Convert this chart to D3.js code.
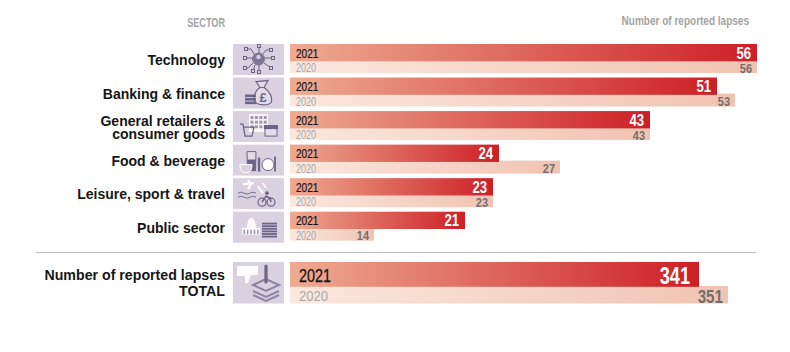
<!DOCTYPE html>
<html>
<head>
<meta charset="utf-8">
<script src="https://d3js.org/d3.v7.min.js"></script>
<style>
  html, body { margin: 0; padding: 0; background: #fff; }
  svg { display: block; }
  text { font-family: "Liberation Sans", Arimo, sans-serif; }
</style>
</head>
<body>
<div id="chart"></div>
<script>
const sectors = ['Technology', 'Banking & finance', 'General retailers &\nconsumer goods', 'Food & beverage', 'Leisure, sport & travel', 'Public sector'];
const lapses2021 = [56, 51, 43, 24, 23, 21];
const lapses2020 = [56, 53, 43, 27, 23, 14];
const totalLabel = 'Number of reported lapses\nTOTAL';
const total2021 = 341;
const total2020 = 351;

const width = 790, height = 352;
const barLeft = 290;
const tileColor = '#d9d0e0';
const iconColor = '#6a6486';

// the bars of the original are not strictly proportional, so the scales have several knots
const x = d3.scaleLinear()
    .domain([0, 14, 21, 23, 24, 27, 43, 51, 53, 56])
    .range([barLeft, 374, 465, 493, 499, 560, 650, 717, 735, 757]);
const xTotal = d3.scaleLinear()
    .domain([0, 341, 351])
    .range([barLeft, 699, 728]);
const y = d3.scaleLinear().domain([0, 5]).range([44, 211.7]);

const svg = d3.select('#chart').append('svg')
    .attr('width', width)
    .attr('height', height);

const defs = svg.append('defs');
function gradient(id, from, to) {
    const g = defs.append('linearGradient').attr('id', id);
    g.append('stop').attr('offset', '0%').attr('stop-color', from);
    g.append('stop').attr('offset', '100%').attr('stop-color', to);
}
gradient('grad2021', '#eeab92', '#cd1f26');
gradient('grad2020', '#fbe8df', '#f1c3b2');

// no condensed font is installed, so squeeze the text to the width of the original
function squeeze(selection, factor) {
    selection.each(function() {
        d3.select(this)
            .attr('textLength', this.getComputedTextLength() * factor)
            .attr('lengthAdjust', 'spacingAndGlyphs');
    });
}

// headers
svg.append('text').attr('x', 225).attr('y', 27).attr('text-anchor', 'end')
    .style('font-size', '12.5px').style('font-weight', 700).style('fill', '#a3a3a3')
    .text('SECTOR')
    .call(squeeze, 0.73);
svg.append('text').attr('x', 749).attr('y', 25).attr('text-anchor', 'end')
    .style('font-size', '13px').style('font-weight', 700).style('fill', '#a3a3a3')
    .text('Number of reported lapses')
    .call(squeeze, 0.77);

function multiline(text, xPos, yCenter, size, lineHeight) {
    const lines = text.split('\n');
    const label = svg.append('text')
        .attr('text-anchor', 'end')
        .style('font-size', size + 'px')
        .style('font-weight', 700)
        .style('fill', '#161616');
    lines.forEach((line, i) => {
        label.append('tspan')
            .attr('x', xPos)
            .attr('y', yCenter + (i - (lines.length - 1) / 2) * lineHeight + size * 0.36)
            .text(line);
    });
}

const rows = svg.selectAll('.row')
    .data(sectors.map((name, i) => ({ name, i, a: lapses2021[i], b: lapses2020[i] })))
    .enter()
    .append('g')
    .attr('class', 'row');

// 2020 goes first so the 2021 bar sits on top of it
rows.append('rect')
    .attr('x', barLeft)
    .attr('y', d => y(d.i) + 16)
    .attr('width', d => x(d.b) - barLeft)
    .attr('height', 13)
    .attr('fill', 'url(#grad2020)');
rows.append('rect')
    .attr('x', barLeft)
    .attr('y', d => y(d.i))
    .attr('width', d => x(d.a) - barLeft)
    .attr('height', 17.3)
    .attr('fill', 'url(#grad2021)');
rows.append('rect')
    .attr('x', 233)
    .attr('y', d => y(d.i))
    .attr('width', 51)
    .attr('height', 31)
    .attr('fill', tileColor);

rows.append('text')
    .attr('x', 296).attr('y', d => y(d.i) + 13.5)
    .style('font-size', '13px').style('fill', '#111').style('stroke', '#111').style('stroke-width', 0.2)
    .text('2021')
    .call(squeeze, 0.77);
rows.append('text')
    .attr('x', 296).attr('y', d => y(d.i) + 28)
    .style('font-size', '12px').style('fill', '#a8a8a8')
    .text('2020')
    .call(squeeze, 0.75);
rows.append('text')
    .attr('x', d => x(d.a) - 6).attr('y', d => y(d.i) + 14.5)
    .attr('text-anchor', 'end')
    .style('font-size', '16px').style('font-weight', 700).style('fill', '#fff')
    .text(d => d.a)
    .call(squeeze, 0.82);
rows.append('text')
    .attr('x', d => x(d.b) - 5).attr('y', d => y(d.i) + 28.5)
    .attr('text-anchor', 'end')
    .style('font-size', '13px').style('font-weight', 700).style('fill', '#6f6f6f')
    .text(d => d.b)
    .call(squeeze, 0.84);

sectors.forEach((name, i) => multiline(name, 225, y(i) + 16, 14, 13));

// separator
svg.append('line').attr('x1', 36).attr('x2', 756).attr('y1', 252.5).attr('y2', 252.5)
    .attr('stroke', '#bdbdbd').attr('stroke-width', 1);

// total row
multiline(totalLabel, 225, 283, 14.2, 16);
svg.append('rect').attr('x', 233).attr('y', 262).attr('width', 51).attr('height', 41.5).attr('fill', tileColor);
svg.append('rect').attr('x', barLeft).attr('y', 286).attr('width', xTotal(total2020) - barLeft).attr('height', 17.5).attr('fill', 'url(#grad2020)');
svg.append('rect').attr('x', barLeft).attr('y', 262).attr('width', xTotal(total2021) - barLeft).attr('height', 24.8).attr('fill', 'url(#grad2021)');
svg.append('text').attr('x', 299).attr('y', 282)
    .style('font-size', '18px').style('fill', '#111').style('stroke', '#111').style('stroke-width', 0.25).text('2021')
    .call(squeeze, 0.8);
svg.append('text').attr('x', 299).attr('y', 301)
    .style('font-size', '15.5px').style('fill', '#a8a8a8').text('2020')
    .call(squeeze, 0.84);
svg.append('text').attr('x', xTotal(total2021) - 9).attr('y', 284)
    .attr('text-anchor', 'end')
    .style('font-size', '23px').style('font-weight', 700).style('fill', '#fff').text(total2021)
    .call(squeeze, 0.79);
svg.append('text').attr('x', xTotal(total2020) - 5).attr('y', 303)
    .attr('text-anchor', 'end')
    .style('font-size', '19px').style('font-weight', 700).style('fill', '#6f6f6f').text(total2020)
    .call(squeeze, 0.8);

// icons, each one drawn in a local box with its origin at the tile corner
function icon(top) {
    return svg.append('g').attr('transform', `translate(233,${top})`)
        .attr('fill', 'none').attr('stroke', iconColor).attr('stroke-width', 1);
}

// technology
const tech = icon(y(0));
tech.append('circle').attr('cx', 25.5).attr('cy', 15).attr('r', 6.5).attr('fill', '#7d7697').attr('stroke', 'none');
tech.append('path').attr('d', 'M26 9V2M21 10L18 5H13M30 10L33 6H38M19 14H12M32 14H40M20 19L15 24H12M31 19L38 24M26 21V28M22 21L20 27');
[[26, 2], [13, 5], [38, 6], [12, 14], [40, 14], [12, 24], [38, 24], [26, 28], [20, 27]].forEach(p => {
    tech.append('rect').attr('x', p[0] - 1.5).attr('y', p[1] - 1.5).attr('width', 3).attr('height', 3).attr('fill', tileColor);
});
tech.append('circle').attr('cx', 25.5).attr('cy', 13).attr('r', 2.2).attr('fill', tileColor).attr('stroke', 'none');

// banking
const bank = icon(y(1));
bank.append('path').attr('d', 'M23 4L35 3L31 10C37 14 40 20 38 25C36 28 28 28 24 26C19 23 21 14 27 10Z').attr('fill', '#e4dde9').attr('stroke-width', 1.2);
bank.append('path').attr('d', 'M27 10H32');
bank.append('text').attr('x', 30).attr('y', 24).attr('text-anchor', 'middle').attr('stroke', 'none').attr('fill', iconColor)
    .style('font-size', '13px').style('font-weight', 700).text('£');
[17, 20.5, 24].forEach(t => bank.append('rect').attr('x', 12).attr('y', t).attr('width', 11).attr('height', 2.6).attr('fill', iconColor).attr('stroke', 'none'));

// retail
const retail = icon(y(2));
retail.append('rect').attr('x', 16).attr('y', 3).attr('width', 19).attr('height', 18).attr('fill', '#fff').attr('stroke', 'none').attr('opacity', 0.85);
d3.range(4).forEach(c => d3.range(3).forEach(r => {
    retail.append('rect').attr('x', 17.5 + c * 4.4).attr('y', 5 + r * 4.6).attr('width', 3).attr('height', 3).attr('fill', '#9c95b2').attr('stroke', 'none');
}));
retail.append('path').attr('d', 'M7 13H10L12 25H19L21 16H11').attr('stroke-width', 1.3);
retail.append('rect').attr('x', 32).attr('y', 15).attr('width', 12).attr('height', 10).attr('fill', '#e4dde9');
retail.append('rect').attr('x', 31).attr('y', 14).attr('width', 14).attr('height', 4).attr('fill', iconColor).attr('stroke', 'none');

// food
const food = icon(y(3));
food.append('path').attr('d', 'M14 7H23L22.5 26H14.5Z').attr('fill', '#e4dde9');
food.append('path').attr('d', 'M14.3 15H22.8L22.5 26H14.5Z').attr('fill', iconColor).attr('stroke', 'none');
food.append('path').attr('d', 'M7 20H19C19 27 16 28 13 28C10 28 7 27 7 20Z').attr('stroke', '#fff').attr('fill', tileColor);
food.append('path').attr('d', 'M26 13V27').attr('stroke-width', 2.4);
food.append('circle').attr('cx', 35).attr('cy', 20).attr('r', 6).attr('fill', '#fff').attr('stroke', iconColor);
food.append('path').attr('d', 'M42 12V27').attr('stroke-width', 1.8);

// leisure
const leisure = icon(y(4));
leisure.append('path').attr('d', 'M10 6L21 5M15 2L18 6L15 11').attr('stroke', '#fff').attr('stroke-width', 2.2);
leisure.append('path').attr('d', 'M5 15Q8 13 11 15T17 15T23 15M5 19Q8 17 11 19T17 19T23 19').attr('stroke-width', 0.9);
leisure.append('circle').attr('cx', 29).attr('cy', 24).attr('r', 4).attr('stroke-width', 1.2);
leisure.append('circle').attr('cx', 38).attr('cy', 24).attr('r', 4).attr('stroke-width', 1.2);
leisure.append('path').attr('d', 'M29 24L33 18L37 20L38 24').attr('stroke-width', 1.6);
leisure.append('circle').attr('cx', 34).attr('cy', 15).attr('r', 1.8).attr('fill', iconColor).attr('stroke', 'none');
leisure.append('path').attr('d', 'M25 8L30 15M30 5L33 10').attr('stroke', '#fff').attr('stroke-width', 1.8);

// public sector
const pub = icon(y(5));
pub.append('path').attr('d', 'M9 23V16H14C14 10 16 6 18.5 6C21 6 23 10 23 16H27V23Z').attr('fill', '#fff').attr('stroke', 'none').attr('opacity', 0.85);
d3.range(5).forEach(i => pub.append('rect').attr('x', 10.5 + i * 3.4).attr('y', 18).attr('width', 1.5).attr('height', 4.5).attr('fill', '#9c95b2').attr('stroke', 'none'));
d3.range(6).forEach(i => pub.append('rect').attr('x', 29).attr('y', 11 + i * 2.6).attr('width', 15).attr('height', 1.8).attr('fill', iconColor).attr('stroke', 'none'));

// total
const totalIcon = icon(262);
totalIcon.append('path').attr('d', 'M4 4H25V13H18L15 21H12L12 14H4Z').attr('fill', '#fff').attr('stroke', 'none');
[29, 33].forEach(c => totalIcon.append('path').attr('d', `M20 ${c}L33 ${c + 6}L46 ${c}`).attr('stroke-width', 2).attr('stroke', '#8b84a3'));
totalIcon.append('path').attr('d', 'M33 17L20 23L33 29L46 23Z').attr('stroke-width', 2).attr('stroke', '#8b84a3');
totalIcon.append('path').attr('d', 'M33 4V20').attr('stroke-width', 3.2).attr('stroke-linecap', 'round');
</script>
</body>
</html>
